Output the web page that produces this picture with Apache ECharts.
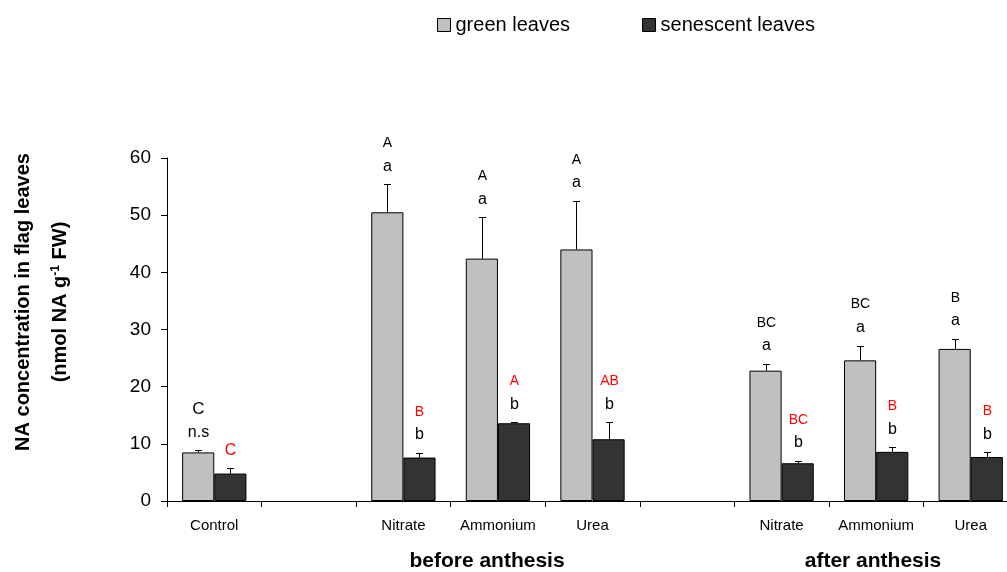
<!DOCTYPE html>
<html>
<head>
<meta charset="utf-8">
<script src="https://cdn.jsdelivr.net/npm/echarts@6/dist/echarts.min.js"></script>
<style>
  html, body { margin: 0; padding: 0; background: #fff; }
  #chart { width: 1007px; height: 572px; }
</style>
</head>
<body>
<div id="chart"></div>
<script>
// Nicotianamine (NA) in flag leaves: control and N treatments before / after anthesis
const categories = ['Control', '', 'Nitrate', 'Ammonium', 'Urea', '', 'Nitrate', 'Ammonium', 'Urea'];
const seriesNames = ['green leaves', 'senescent leaves'];
const greenValues = [8.5, null, 50.5, 42.4, 44.0, null, 22.8, 24.6, 26.6];
const greenErrors = [0.4, null, 4.9, 7.2, 8.5, null, 1.2, 2.6, 1.8];
const senescentValues = [4.8, null, 7.6, 13.6, 10.8, null, 6.6, 8.6, 7.7];
const senescentErrors = [0.9, null, 0.8, 0.2, 3.0, null, 0.4, 0.8, 0.8];
// significance letters (upper line / lower line) above each bar
const greenUpper = ['C', '', 'A', 'A', 'A', '', 'BC', 'BC', 'B'];
const greenLower = ['n.s', '', 'a', 'a', 'a', '', 'a', 'a', 'a'];
const senescentUpper = ['', '', 'B', 'A', 'AB', '', 'BC', 'B', 'B'];
const senescentLower = ['C', '', 'b', 'b', 'b', '', 'b', 'b', 'b'];
const yTickValues = [0, 10, 20, 30, 40, 50, 60];
const groupLabels = ['before anthesis', 'after anthesis'];
const yTitle = ['NA concentration in flag leaves', '(nmol NA g{sup|-1} FW)'];

const FONT = 'Liberation Sans, Arial, Helvetica, sans-serif';
const BAR_FRACTION = 0.34;
const GREEN = '#c0c0c0';
const DARK = '#333333';

function pointsOf(values, errors) {
  const out = [];
  values.forEach((v, i) => { if (v != null) out.push([i, v, errors[i]]); });
  return out;
}

function letterColor(text, senescent) {
  return senescent && /^[A-Z]+$/.test(text) ? '#ff0000' : '#000000';
}

// error whisker + significance letters drawn at the top of each bar
function makeRenderer(side, upper, lower, senescent) {
  return function (params, api) {
    const i = api.value(0);
    const v = api.value(1);
    const e = api.value(2);
    const base = api.coord([i, v]);
    const top = api.coord([i, v + e]);
    const half = api.size([1, 0])[0] * BAR_FRACTION / 2;
    const x = Math.round(base[0] + side * half) + 0.5;
    const yTop = Math.round(top[1]) + 0.5;
    const children = [
      { type: 'line', shape: { x1: x, y1: base[1], x2: x, y2: yTop }, style: { stroke: '#000', lineWidth: 1 } },
      { type: 'line', shape: { x1: x - 3.5, y1: yTop, x2: x + 3.5, y2: yTop }, style: { stroke: '#000', lineWidth: 1 } }
    ];
    const lo = lower[i];
    const up = upper[i];
    const bigUpper = i === 0;
    if (lo) {
      children.push({
        type: 'text',
        style: {
          text: lo, x: x, y: top[1] - 18,
          align: 'center', verticalAlign: 'middle',
          textAlign: 'center', textVerticalAlign: 'middle',
          font: '16px ' + FONT, fill: letterColor(lo, senescent)
        }
      });
    }
    if (up) {
      children.push({
        type: 'text',
        style: {
          text: up, x: x, y: top[1] - 41,
          align: 'center', verticalAlign: 'middle',
          textAlign: 'center', textVerticalAlign: 'middle',
          font: (bigUpper ? '17px ' : '14px ') + FONT, fill: letterColor(up, senescent)
        }
      });
    }
    return { type: 'group', children: children };
  };
}

const chart = echarts.init(document.getElementById('chart'), null, { renderer: 'canvas' });

const option = {
  backgroundColor: '#ffffff',
  animation: false,
  textStyle: { fontFamily: FONT },
  legend: {
    data: seriesNames,
    left: 437,
    top: 15,
    padding: 0,
    icon: 'rect',
    itemWidth: 13,
    itemHeight: 13,
    itemGap: 72,
    itemStyle: { borderColor: '#000', borderWidth: 1 },
    textStyle: { fontSize: 20, color: '#000', fontFamily: FONT }
  },
  // the plot area runs slightly past the right edge of the canvas
  grid: { left: 167, top: 158, width: 851, height: 343, containLabel: false, outerBoundsMode: 'none' },
  xAxis: {
    type: 'category',
    data: categories,
    boundaryGap: true,
    axisLine: { lineStyle: { color: '#000', width: 1 } },
    axisTick: { show: true, alignWithLabel: false, interval: 0, length: 6, lineStyle: { color: '#000' } },
    axisLabel: { interval: 0, fontSize: 15, color: '#000', margin: 17, fontFamily: FONT },
    splitLine: { show: false }
  },
  yAxis: {
    type: 'value',
    min: yTickValues[0],
    max: yTickValues[yTickValues.length - 1],
    interval: yTickValues[1] - yTickValues[0],
    axisLine: { show: true, lineStyle: { color: '#000', width: 1 } },
    axisTick: { show: true, length: 6, lineStyle: { color: '#000' } },
    axisLabel: { fontSize: 19, color: '#000', margin: 16, fontFamily: FONT },
    splitLine: { show: false }
  },
  series: [
    {
      name: seriesNames[0],
      type: 'bar',
      data: greenValues,
      barWidth: (BAR_FRACTION * 100) + '%',
      barGap: '0%',
      itemStyle: { color: GREEN, borderColor: '#000', borderWidth: 1 }
    },
    {
      name: seriesNames[1],
      type: 'bar',
      data: senescentValues,
      barWidth: (BAR_FRACTION * 100) + '%',
      barGap: '0%',
      itemStyle: { color: DARK, borderColor: '#000', borderWidth: 1 }
    },
    {
      name: 'green error',
      type: 'custom',
      data: pointsOf(greenValues, greenErrors),
      renderItem: makeRenderer(-1, greenUpper, greenLower, false),
      encode: { x: 0, y: [1, 2] },
      z: 5
    },
    {
      name: 'senescent error',
      type: 'custom',
      data: pointsOf(senescentValues, senescentErrors),
      renderItem: makeRenderer(1, senescentUpper, senescentLower, true),
      encode: { x: 0, y: [1, 2] },
      z: 5
    }
  ],
  graphic: [
    {
      type: 'text', x: 23, y: 302, rotation: Math.PI / 2,
      style: {
        text: yTitle[0], font: 'bold 20px ' + FONT, fill: '#000',
        align: 'center', verticalAlign: 'middle', textAlign: 'center', textVerticalAlign: 'middle'
      }
    },
    {
      type: 'text', x: 60, y: 302, rotation: Math.PI / 2,
      style: {
        text: yTitle[1], font: 'bold 20px ' + FONT, fill: '#000',
        align: 'center', verticalAlign: 'middle', textAlign: 'center', textVerticalAlign: 'middle',
        rich: {
          sup: { fontSize: 12, fontWeight: 'bold', fontFamily: FONT, verticalAlign: 'top', fill: '#000' }
        }
      }
    },
    {
      type: 'text', x: 487, y: 561,
      style: {
        text: groupLabels[0], font: 'bold 21px ' + FONT, fill: '#000',
        align: 'center', verticalAlign: 'middle', textAlign: 'center', textVerticalAlign: 'middle'
      }
    },
    {
      type: 'text', x: 873, y: 561,
      style: {
        text: groupLabels[1], font: 'bold 21px ' + FONT, fill: '#000',
        align: 'center', verticalAlign: 'middle', textAlign: 'center', textVerticalAlign: 'middle'
      }
    }
  ]
};

chart.setOption(option);
</script>
</body>
</html>
